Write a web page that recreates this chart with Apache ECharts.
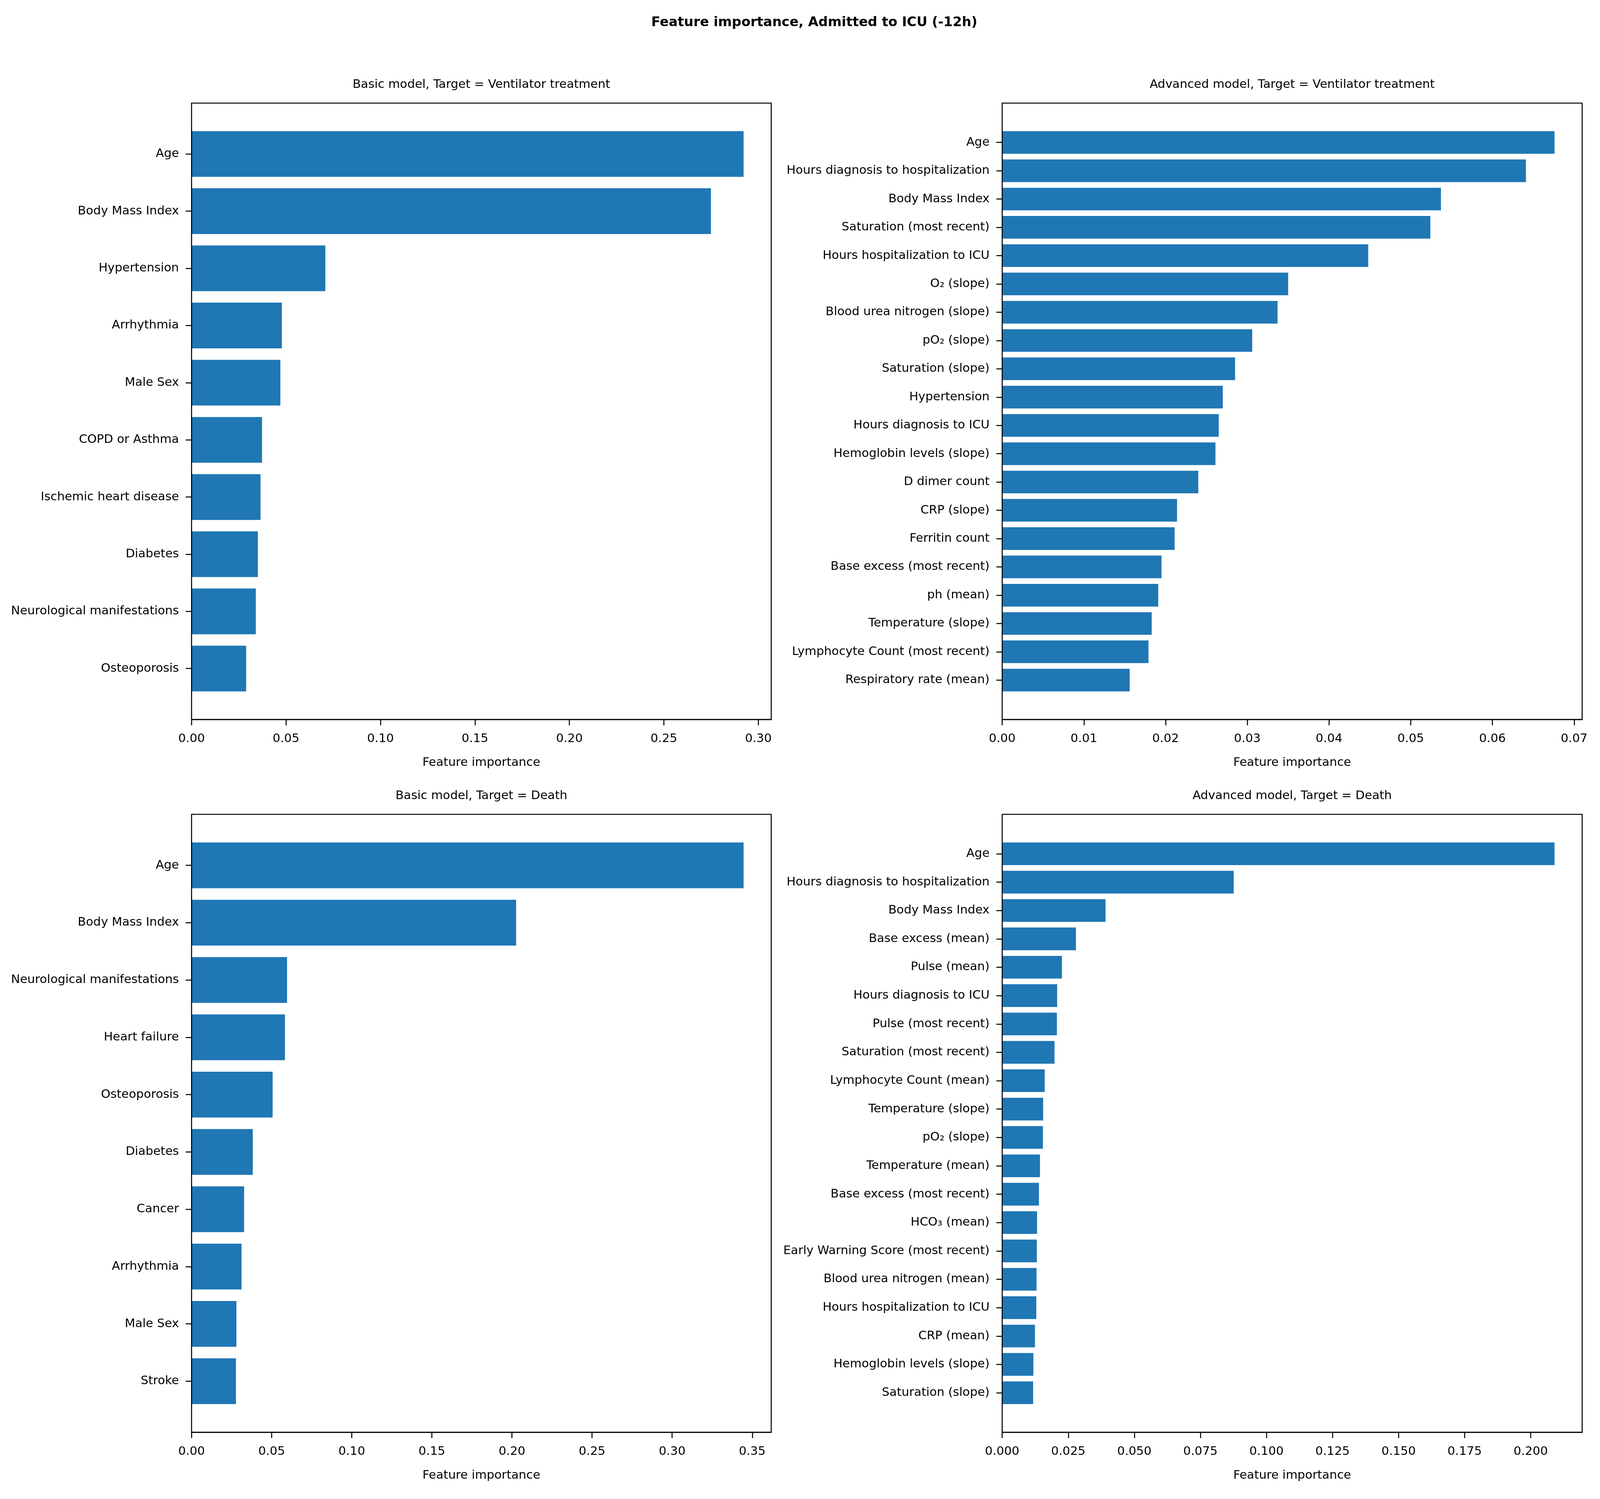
<!DOCTYPE html>
<html>
<head>
<meta charset="utf-8">
<title>Feature importance, Admitted to ICU (-12h)</title>
<script src="https://cdn.jsdelivr.net/npm/echarts@6/dist/echarts.min.js"></script>
<style>
	html, body { margin: 0; padding: 0; background: #fff; overflow: hidden; }
	#main { width: 100vw; height: 100vh; }
</style>
</head>
<body>
<div id="main"></div>
<script>
//数据 - 基础模型 呼吸机
var ventBasicNames = ['Age', 'Body Mass Index', 'Hypertension', 'Arrhythmia', 'Male Sex', 'COPD or Asthma',
	'Ischemic heart disease', 'Diabetes', 'Neurological manifestations', 'Osteoporosis'];
var ventBasicValues = [0.2922, 0.2749, 0.0708, 0.0478, 0.0470, 0.0373, 0.0365, 0.0351, 0.0340, 0.0289];
var ventBasicTicks = [0, 0.05, 0.10, 0.15, 0.20, 0.25, 0.30];

//数据 - 高级模型 呼吸机
var ventAdvNames = ['Age', 'Hours diagnosis to hospitalization', 'Body Mass Index', 'Saturation (most recent)',
	'Hours hospitalization to ICU', 'O\u2082 (slope)', 'Blood urea nitrogen (slope)', 'pO\u2082 (slope)',
	'Saturation (slope)', 'Hypertension', 'Hours diagnosis to ICU', 'Hemoglobin levels (slope)', 'D dimer count',
	'CRP (slope)', 'Ferritin count', 'Base excess (most recent)', 'ph (mean)', 'Temperature (slope)',
	'Lymphocyte Count (most recent)', 'Respiratory rate (mean)'];
var ventAdvValues = [0.0676, 0.0641, 0.0537, 0.0524, 0.0448, 0.0350, 0.0337, 0.0306, 0.0285, 0.0270,
	0.0265, 0.0261, 0.0240, 0.0214, 0.0211, 0.0195, 0.0191, 0.0183, 0.0179, 0.0156];
var ventAdvTicks = [0, 0.01, 0.02, 0.03, 0.04, 0.05, 0.06, 0.07];

//数据 - 基础模型 死亡
var deathBasicNames = ['Age', 'Body Mass Index', 'Neurological manifestations', 'Heart failure', 'Osteoporosis',
	'Diabetes', 'Cancer', 'Arrhythmia', 'Male Sex', 'Stroke'];
var deathBasicValues = [0.3446, 0.2026, 0.0596, 0.0583, 0.0506, 0.0382, 0.0328, 0.0312, 0.0280, 0.0277];
var deathBasicTicks = [0, 0.05, 0.10, 0.15, 0.20, 0.25, 0.30, 0.35];

//数据 - 高级模型 死亡
var deathAdvNames = ['Age', 'Hours diagnosis to hospitalization', 'Body Mass Index', 'Base excess (mean)',
	'Pulse (mean)', 'Hours diagnosis to ICU', 'Pulse (most recent)', 'Saturation (most recent)',
	'Lymphocyte Count (mean)', 'Temperature (slope)', 'pO\u2082 (slope)', 'Temperature (mean)',
	'Base excess (most recent)', 'HCO\u2083 (mean)', 'Early Warning Score (most recent)',
	'Blood urea nitrogen (mean)', 'Hours hospitalization to ICU', 'CRP (mean)', 'Hemoglobin levels (slope)',
	'Saturation (slope)'];
var deathAdvValues = [0.2090, 0.0876, 0.0391, 0.0279, 0.0226, 0.0208, 0.0207, 0.0198, 0.0161, 0.0155,
	0.0154, 0.0143, 0.0139, 0.0132, 0.0131, 0.0130, 0.0129, 0.0124, 0.0118, 0.0117];
var deathAdvTicks = [0, 0.025, 0.05, 0.075, 0.10, 0.125, 0.15, 0.175, 0.20];

// 按实际窗口大小缩放 (参考图 5195 x 3838)
var SX = window.innerWidth / 5195;
var SY = window.innerHeight / 3838;
var S = Math.min(SX, SY);
var FONT = 'DejaVu Sans';
var FS = 39 * S;
var LW = 3.3 * S;

var option = {
	backgroundColor: '#fff',
	animation: false,
	textStyle: { fontFamily: FONT },
	title: [],
	grid: [],
	xAxis: [],
	yAxis: [],
	series: []
};

option.title.push({
	text: 'Feature importance, Admitted to ICU (-12h)',
	left: 2644 * SX, top: 58 * SY, padding: 0,
	textAlign: 'center', textVerticalAlign: 'middle',
	textStyle: { fontFamily: FONT, fontSize: 43 * S, fontWeight: 'bold', color: '#000' }
});

//添加一个子图: 外框 grid + 柱状 grid
function addPanel(title, names, values, ticks, digits, left, top, width, height) {
	left = left * SX; width = width * SX;
	top = top * SY; height = height * SY;
	var n = names.length;
	var xMax = Math.max.apply(null, values) * 1.05;
	// matplotlib 默认边距: 数据范围 (n - 0.2) 的 5%
	var span = (n - 0.2) * 1.1;
	var unit = height / span;
	var pad = (span - n) / 2 * unit;

	var gFrame = option.grid.length;
	option.grid.push({
		left: left, top: top, width: width, height: height,
		show: true, backgroundColor: 'transparent',
		borderColor: '#000', borderWidth: LW, z: 10
	});
	var gBar = option.grid.length;
	option.grid.push({
		left: left, top: top + pad, width: width, height: n * unit
	});

	option.title.push({
		text: title,
		left: left + width / 2, top: top - 47 * SY, padding: 0,
		textAlign: 'center', textVerticalAlign: 'middle',
		textStyle: { fontFamily: FONT, fontSize: FS, fontWeight: 'normal', color: '#000' }
	});

	// 外框的 x 轴 (刻度与标签)
	option.xAxis.push({
		type: 'value', gridIndex: gFrame, min: 0, max: xMax,
		name: 'Feature importance', nameLocation: 'middle', nameGap: 96 * SY,
		nameTextStyle: { fontFamily: FONT, fontSize: FS, color: '#000' },
		axisLine: { show: true, lineStyle: { color: '#000', width: LW } },
		axisTick: { show: true, length: 19 * S, customValues: ticks, lineStyle: { color: '#000', width: LW } },
		axisLabel: {
			show: true, margin: 35 * SY, customValues: ticks,
			fontFamily: FONT, fontSize: FS, color: '#000',
			formatter: function(v) { return v.toFixed(digits); }
		},
		splitLine: { show: false }
	});
	option.yAxis.push({ type: 'value', gridIndex: gFrame, show: false, min: 0, max: 1 });

	// 柱状图的轴
	var xBar = option.xAxis.length;
	option.xAxis.push({ type: 'value', gridIndex: gBar, min: 0, max: xMax, show: false });
	var yBar = option.yAxis.length;
	option.yAxis.push({
		type: 'category', gridIndex: gBar, data: names, inverse: true,
		axisLine: { show: false },
		axisTick: { show: true, alignWithLabel: true, length: 19 * S, lineStyle: { color: '#000', width: LW } },
		axisLabel: { margin: 41 * SX, fontFamily: FONT, fontSize: FS, color: '#000', interval: 0 },
		splitLine: { show: false }
	});
	option.series.push({
		type: 'bar', xAxisIndex: xBar, yAxisIndex: yBar,
		data: values, barCategoryGap: '20%',
		itemStyle: { color: '#1f77b4' }
	});
}

addPanel('Basic model, Target = Ventilator treatment', ventBasicNames, ventBasicValues, ventBasicTicks, 2,
	622, 264, 1882, 1578);
addPanel('Advanced model, Target = Ventilator treatment', ventAdvNames, ventAdvValues, ventAdvTicks, 2,
	3254, 264, 1883, 1578);
addPanel('Basic model, Target = Death', deathBasicNames, deathBasicValues, deathBasicTicks, 2,
	622, 2085, 1882, 1582);
addPanel('Advanced model, Target = Death', deathAdvNames, deathAdvValues, deathAdvTicks, 3,
	3254, 2085, 1883, 1582);

var myChart = echarts.init(document.getElementById('main'));
myChart.setOption(option);
</script>
</body>
</html>
